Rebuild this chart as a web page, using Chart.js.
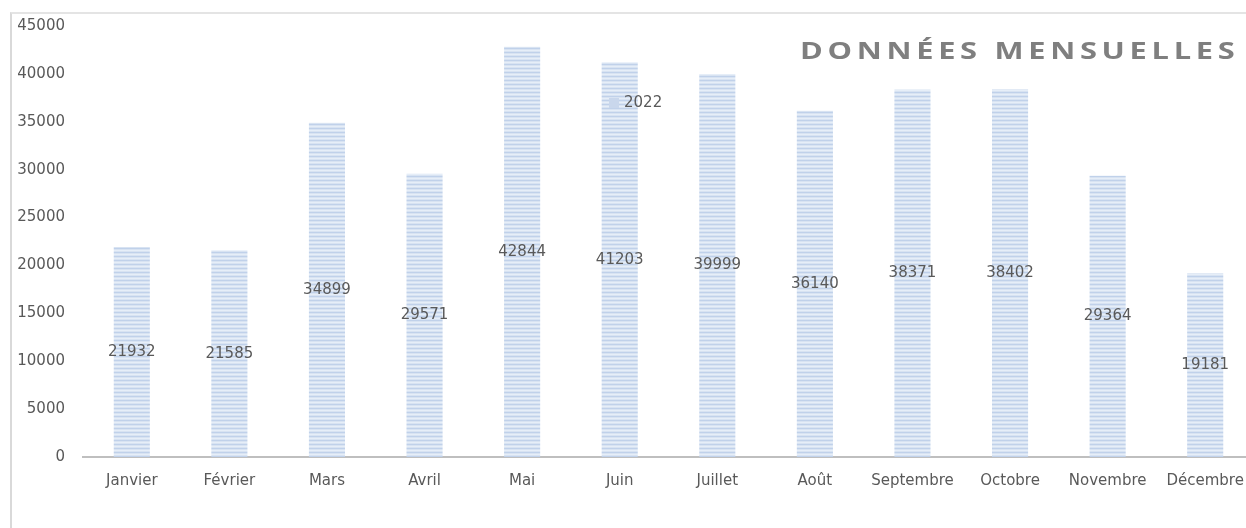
<!DOCTYPE html>
<html>
<head>
<meta charset="utf-8">
<script src="https://cdn.jsdelivr.net/npm/chart.js@4"></script>
<style>
  html, body { margin: 0; padding: 0; background: #fff; overflow: hidden; }
  #frame {
    position: absolute; left: 10px; top: 12px; width: 1260px; height: 530px;
    border-left: 2px solid #d9d9d9; border-top: 2px solid #e4e4e4;
    box-sizing: border-box;
  }
  #wrap { position: absolute; left: 10px; top: 12px; width: 1250px; height: 516px; }
</style>
</head>
<body>
<div id="frame"></div>
<div id="wrap"><canvas id="barChart"></canvas></div>
<script>
const months = ['Janvier', 'Février', 'Mars', 'Avril', 'Mai', 'Juin', 'Juillet', 'Août', 'Septembre', 'Octobre', 'Novembre', 'Décembre'];
const values2022 = [21932, 21585, 34899, 29571, 42844, 41203, 39999, 36140, 38371, 38402, 29364, 19181];
const seriesName = '2022';
const chartTitle = 'DONNÉES MENSUELLES';

const textColor = '#595959';
const fontFamily = '"DejaVu Sans", sans-serif';

// striped light blue fill, like the original
function stripes() {
    const c = document.createElement('canvas');
    c.width = 8; c.height = 4;
    const g = c.getContext('2d');
    g.fillStyle = '#d8e3f2';
    g.fillRect(0, 0, 8, 4);
    g.fillStyle = '#c0d1ea';
    g.fillRect(0, 0, 8, 1);
    g.fillStyle = '#e6eef8';
    g.fillRect(0, 2, 8, 1);
    return g.createPattern(c, 'repeat');
}
const barFill = stripes();

// value labels in the middle of each bar
const midLabels = {
    id: 'midLabels',
    afterDatasetsDraw(chart) {
        const ctx = chart.ctx;
        const meta = chart.getDatasetMeta(0);
        ctx.save();
        ctx.font = '15px ' + fontFamily;
        ctx.fillStyle = textColor;
        ctx.textAlign = 'center';
        ctx.textBaseline = 'middle';
        meta.data.forEach((bar, i) => {
            const y = (bar.y + bar.base) / 2;
            ctx.fillText(values2022[i], bar.x, y);
        });
        ctx.restore();
    }
};

// title at top right and legend inside the plot
const titleLegend = {
    id: 'titleLegend',
    afterDraw(chart) {
        const ctx = chart.ctx;
        ctx.save();
        ctx.translate(790, 47);
        ctx.scale(1.34, 1);
        ctx.font = 'bold 23px "Open Sans", sans-serif';
        ctx.fillStyle = '#7f7f7f';
        ctx.letterSpacing = '3.5px';
        ctx.textBaseline = 'alphabetic';
        ctx.textAlign = 'left';
        ctx.fillText(chartTitle, 0, 0);
        ctx.restore();

        ctx.save();
        ctx.fillStyle = '#c9d7ec';
        ctx.fillRect(599, 86, 10, 10);
        ctx.font = '15px ' + fontFamily;
        ctx.fillStyle = textColor;
        ctx.textBaseline = 'middle';
        ctx.fillText(seriesName, 614, 91);
        ctx.restore();
    }
};

function noPad(scale) {
    scale.paddingTop = 0;
    scale.paddingBottom = 0;
    scale.paddingLeft = 0;
    scale.paddingRight = 0;
}

new Chart(document.getElementById('barChart').getContext('2d'), {
    type: 'bar',
    data: {
        labels: months,
        datasets: [{
            label: seriesName,
            data: values2022,
            backgroundColor: barFill,
            borderWidth: 0,
            barPercentage: 0.37,
            categoryPercentage: 1
        }]
    },
    options: {
        responsive: true,
        maintainAspectRatio: false,
        animation: false,
        layout: { padding: { top: 14, right: 6, left: 0, bottom: 0 } },
        plugins: {
            legend: { display: false },
            tooltip: { enabled: false }
        },
        scales: {
            x: {
                grid: { display: false, drawTicks: false },
                border: { display: true, color: '#bfbfbf', width: 2 },
                ticks: { color: textColor, font: { family: fontFamily, size: 15 }, padding: 15, maxRotation: 0, autoSkip: false },
                afterFit(scale) { scale.height = 71; noPad(scale); }
            },
            y: {
                min: 0,
                max: 45000,
                grid: { display: false, drawTicks: false },
                border: { display: false },
                ticks: {
                    stepSize: 5000, color: textColor, font: { family: fontFamily, size: 15 }, padding: 18,
                    callback: v => String(v)
                },
                afterFit(scale) { scale.width = 73; noPad(scale); }
            }
        }
    },
    plugins: [midLabels, titleLegend]
});
</script>
</body>
</html>
